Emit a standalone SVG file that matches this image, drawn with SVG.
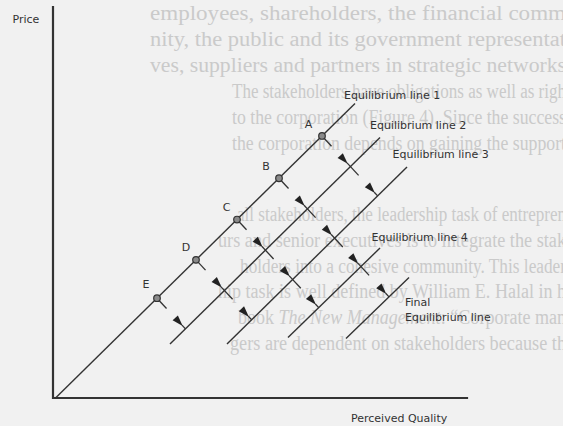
<svg xmlns="http://www.w3.org/2000/svg" width="563" height="426" viewBox="0 0 563 426">
<style>
.bg{fill:#f1f1f1}
.bleed{font-family:"Liberation Serif","Times New Roman",serif;font-size:20px;fill:#cacaca}
.ax{stroke:#333;stroke-width:2.2;fill:none;stroke-linecap:square}
.eq{stroke:#333;stroke-width:1.4;fill:none}
.tk{stroke:#333;stroke-width:1.3;fill:none}
.wd{fill:#222;stroke:none}
.pt{fill:#8a8a8a;stroke:#333;stroke-width:1.2}
.lb{font-family:"DejaVu Sans",Verdana,sans-serif;font-size:11px;fill:#333}
</style>
<rect class="bg" x="0" y="0" width="563" height="426"/>
<g id="bleed-through">
<text class="bleed" x="150" y="20" textLength="416" lengthAdjust="spacingAndGlyphs">employees, shareholders, the financial comm</text>
<text class="bleed" x="150" y="46" textLength="416" lengthAdjust="spacingAndGlyphs">nity, the public and its government representat</text>
<text class="bleed" x="150" y="72" textLength="416" lengthAdjust="spacingAndGlyphs">ves, suppliers and partners in strategic networks</text>
<text class="bleed" x="232" y="98" textLength="334" lengthAdjust="spacingAndGlyphs">The stakeholders have obligations as well as righ</text>
<text class="bleed" x="232" y="124" textLength="334" lengthAdjust="spacingAndGlyphs">to the corporation (Figure 4). Since the success</text>
<text class="bleed" x="232" y="150" textLength="334" lengthAdjust="spacingAndGlyphs">the corporation depends on gaining the support</text>
<text class="bleed" x="237" y="221" textLength="329" lengthAdjust="spacingAndGlyphs">all stakeholders, the leadership task of entrepren</text>
<text class="bleed" x="218" y="247" textLength="348" lengthAdjust="spacingAndGlyphs">urs and senior executives is to integrate the stak</text>
<text class="bleed" x="240" y="273" textLength="326" lengthAdjust="spacingAndGlyphs">holders into a cohesive community. This leader</text>
<text class="bleed" x="218" y="298" textLength="348" lengthAdjust="spacingAndGlyphs">hip task is well defined by William E. Halal in h</text>
<text class="bleed" x="238" y="324" textLength="328" lengthAdjust="spacingAndGlyphs">book <tspan font-style="italic">The New Management</tspan>: “Corporate man</text>
<text class="bleed" x="230" y="350" textLength="336" lengthAdjust="spacingAndGlyphs">gers are dependent on stakeholders because th</text>
</g>
<g id="axes">
<polyline class="ax" points="53,7 53,398 467,398"/>
<text class="lb" x="12.5" y="22.5" font-size="10">Price</text>
<text class="lb" x="351" y="422">Perceived Quality</text>
</g>
<g id="connectors">
<g id="equilibrium-lines">
<line class="eq" x1="55.5" y1="398" x2="355" y2="103.5"/>
<line class="eq" x1="170" y1="344" x2="380" y2="137.5"/>
<line class="eq" x1="227" y1="344" x2="407" y2="167"/>
<line class="eq" x1="288" y1="337.5" x2="380" y2="248"/>
<line class="eq" x1="346" y1="338.5" x2="409" y2="277.5"/>
</g>
<g id="chain-A" transform="translate(322,135.95) rotate(47.15)">
<line class="tk" x1="0" y1="0" x2="14" y2="0"/>
<path class="wd" d="M37.8,0 L26.8,-3.6 L26.8,3.6 Z"/><line class="tk" x1="36.8" y1="0" x2="53.8" y2="0"/>
<path class="wd" d="M77.8,0 L66.8,-3.6 L66.8,3.6 Z"/><line class="tk" x1="76.8" y1="0" x2="81.8" y2="0"/>
</g>
<g id="chain-B" transform="translate(279,178.23) rotate(47.15)">
<line class="tk" x1="0" y1="0" x2="14" y2="0"/>
<path class="wd" d="M37.8,0 L26.8,-3.6 L26.8,3.6 Z"/><line class="tk" x1="36.8" y1="0" x2="53.8" y2="0"/>
<path class="wd" d="M77.8,0 L66.8,-3.6 L66.8,3.6 Z"/><line class="tk" x1="76.8" y1="0" x2="93.8" y2="0"/>
<path class="wd" d="M116.5,0 L105.5,-3.6 L105.5,3.6 Z"/><line class="tk" x1="115.5" y1="0" x2="132.5" y2="0"/>
<path class="wd" d="M157.8,0 L146.8,-3.6 L146.8,3.6 Z"/><line class="tk" x1="156.8" y1="0" x2="161.8" y2="0"/>
</g>
<g id="chain-C" transform="translate(237,219.53) rotate(47.15)">
<line class="tk" x1="0" y1="0" x2="14" y2="0"/>
<path class="wd" d="M37.8,0 L26.8,-3.6 L26.8,3.6 Z"/><line class="tk" x1="36.8" y1="0" x2="53.8" y2="0"/>
<path class="wd" d="M77.8,0 L66.8,-3.6 L66.8,3.6 Z"/><line class="tk" x1="76.8" y1="0" x2="93.8" y2="0"/>
<path class="wd" d="M116.2,0 L105.2,-3.6 L105.2,3.6 Z"/><line class="tk" x1="115.2" y1="0" x2="120.2" y2="0"/>
</g>
<g id="chain-D" transform="translate(196,259.84) rotate(47.15)">
<line class="tk" x1="0" y1="0" x2="14" y2="0"/>
<path class="wd" d="M37.8,0 L26.8,-3.6 L26.8,3.6 Z"/><line class="tk" x1="36.8" y1="0" x2="53.8" y2="0"/>
<path class="wd" d="M77.8,0 L66.8,-3.6 L66.8,3.6 Z"/><line class="tk" x1="76.8" y1="0" x2="81.8" y2="0"/>
</g>
<g id="chain-E" transform="translate(157,298.19) rotate(47.15)">
<line class="tk" x1="0" y1="0" x2="14" y2="0"/>
<path class="wd" d="M37.8,0 L26.8,-3.6 L26.8,3.6 Z"/><line class="tk" x1="36.8" y1="0" x2="41.8" y2="0"/>
</g>
</g>
<g id="node-A"><circle class="pt" cx="322" cy="135.95" r="3.3"/><text class="lb" x="308.5" y="127.5" text-anchor="middle">A</text></g>
<g id="node-B"><circle class="pt" cx="279" cy="178.23" r="3.3"/><text class="lb" x="266" y="169.5" text-anchor="middle">B</text></g>
<g id="node-C"><circle class="pt" cx="237" cy="219.53" r="3.3"/><text class="lb" x="226.7" y="210.7" text-anchor="middle">C</text></g>
<g id="node-D"><circle class="pt" cx="196" cy="259.84" r="3.3"/><text class="lb" x="186" y="251" text-anchor="middle">D</text></g>
<g id="node-E"><circle class="pt" cx="157" cy="298.19" r="3.3"/><text class="lb" x="146" y="288" text-anchor="middle">E</text></g>
<g id="labels">
<text class="lb" x="344" y="98.5">Equilibrium line 1</text>
<text class="lb" x="370" y="128.5">Equilibrium line 2</text>
<text class="lb" x="392.5" y="158">Equilibrium line 3</text>
<text class="lb" x="371.5" y="240.5">Equilibrium line 4</text>
<text class="lb" x="405" y="306">Final</text>
<text class="lb" x="405" y="321">Equilibrium line</text>
</g>
</svg>
